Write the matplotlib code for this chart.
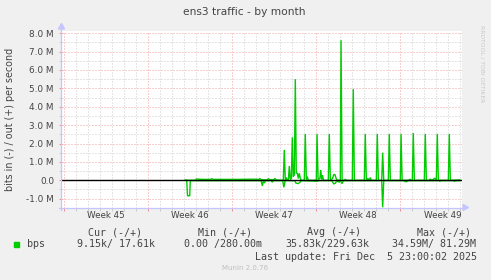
import matplotlib
matplotlib.use("Agg")
import matplotlib.pyplot as plt
import matplotlib.transforms as mtrans
from matplotlib.patches import Polygon, Rectangle
from matplotlib.lines import Line2D

# ---------------- data (days since Mon 3 Nov 2025 00:00, values in Mbit/s) ----------------
out_days = [10.06, 10.5, 10.95, 11.0, 11.2, 11.5, 12.2, 12.3, 12.4, 13.5, 14.6, 15.7, 16.2, 16.3, 16.4,
            16.9, 17.0, 17.1, 17.45, 17.55, 17.65, 18.25, 18.33, 18.42, 18.5, 18.58, 18.67, 18.75, 18.83,
            18.92, 19.0, 19.08, 19.17, 19.25, 19.33, 19.42, 19.5, 19.58, 19.67, 19.75, 20.0, 20.08, 20.17,
            20.25, 20.33, 21.0, 21.06, 21.15, 21.3, 21.37, 21.45, 21.52, 21.6, 22.0, 22.08, 22.17, 22.35,
            22.45, 22.55, 22.65, 22.75, 23.0, 23.06, 23.15, 23.35, 23.42, 23.5, 24.0, 24.08, 24.17, 25.0,
            25.08, 25.17, 25.3, 25.42, 25.5, 25.58, 26.0, 26.08, 26.17, 26.45, 26.53, 26.62, 27.0, 27.08,
            27.17, 28.0, 28.06, 28.15, 28.7, 28.8, 28.9, 29.0, 29.08, 29.17, 30.0, 30.08, 30.17, 30.4,
            30.5, 30.6, 30.75, 30.85, 30.95, 31.0, 31.08, 31.17, 32.0, 32.08, 32.17, 32.96]
out_mbps = [0.0, 0.0, 0.01, 0.07, 0.06, 0.05, 0.05, 0.09, 0.05, 0.05, 0.05, 0.06, 0.05, 0.09, 0.03,
            0.02, 0.09, 0.03, 0.03, 0.10, 0.02, 0.0, 1.65, 0.0, 0.15, 0.0, 0.0, 0.78, 0.05,
            0.10, 2.34, 0.20, 0.30, 5.50, 0.40, 0.38, 0.10, 0.38, 0.10, 0.0, 0.0, 2.52, 0.05,
            0.20, 0.0, 0.0, 2.52, 0.05, 0.10, 0.56, 0.05, 0.28, 0.0, 0.0, 2.52, 0.0, 0.10,
            0.30, 0.32, 0.10, 0.0, 0.0, 7.62, 0.0, 0.0, 0.06, 0.0, 0.0, 4.96, 0.0, 0.0,
            2.52, 0.0, 0.10, 0.0, 0.15, 0.0, 0.0, 2.52, 0.0, 0.0, 1.50, 0.0, 0.0, 2.52,
            0.0, 0.0, 2.52, 0.0, 0.0, 0.05, 0.0, 0.0, 2.57, 0.0, 0.0, 2.52, 0.0, 0.0,
            0.07, 0.0, 0.05, 0.12, 0.03, 0.0, 2.52, 0.0, 0.0, 2.52, 0.0, 0.02]

in_days = [10.06, 10.2, 10.27, 10.45, 10.5, 11.5, 13.0, 14.5, 16.4, 16.5, 16.58, 16.68, 16.75, 16.85,
           17.25, 17.33, 17.42, 18.2, 18.3, 18.4, 19.2, 19.3, 19.5, 19.65, 19.75, 21.1, 21.2, 22.3,
           22.45, 22.6, 22.7, 22.9, 23.0, 23.15, 23.25, 26.45, 26.53, 26.62, 28.3, 28.4, 28.55, 28.65,
           31.2, 31.3, 31.4, 32.4, 32.5, 32.6, 32.96]
in_mbps = [0.0, 0.0, -0.84, -0.84, -0.02, -0.02, -0.02, -0.02, -0.02, -0.30, -0.05, -0.15, -0.03, -0.02,
           -0.02, -0.10, -0.02, -0.02, -0.38, -0.02, -0.02, -0.15, -0.18, -0.10, -0.02, -0.05, -0.02, -0.02,
           -0.20, -0.15, -0.02, -0.10, -0.02, -0.18, -0.02, -0.02, -1.47, -0.02, -0.02, -0.07, -0.07, -0.02,
           -0.02, -0.05, -0.02, -0.02, -0.05, -0.02, -0.02]

week_labels = ["Week 45", "Week 46", "Week 47", "Week 48", "Week 49"]
week_starts = [0, 7, 14, 21, 28]
ytick_vals = [-1, 0, 1, 2, 3, 4, 5, 6, 7, 8]
ytick_labels = ["-1.0 M", "0.0", "1.0 M", "2.0 M", "3.0 M", "4.0 M", "5.0 M", "6.0 M", "7.0 M", "8.0 M"]

legend_headers = ["Cur (-/+)", "Min (-/+)", "Avg (-/+)", "Max (-/+)"]
legend_values = ["9.15k/ 17.61k", "0.00 /280.00m", "35.83k/229.63k", "34.59M/ 81.29M"]
series_name = "bps"
last_update = "Last update: Fri Dec  5 23:00:02 2025"

# ---------------- figure ----------------
W, H = 491, 280
BG = "#F0F0F0"
GREEN = "#00CC00"
TXT = "#444444"
AXC = "#C4C4FF"

fig = plt.figure(figsize=(W / 100, H / 100), dpi=100, facecolor=BG)

def fx(px):
    return px / W

def fy(py):
    return 1 - py / H

left_px, right_px, top_px, bot_px = 62, 462, 31, 207.5
ax = fig.add_axes([fx(left_px), fy(bot_px), fx(right_px - left_px), (bot_px - top_px) / H])
ax.set_facecolor("white")

xmin, xmax = -0.19, 33.14
ymin, ymax = -1.48, 8.12
ax.set_xlim(xmin, xmax)
ax.set_ylim(ymin, ymax)

for s in ax.spines.values():
    s.set_visible(False)

# grid
ax.set_xticks(week_starts)
ax.set_xticks([d for d in range(0, 34)], minor=True)
ax.set_yticks(ytick_vals)
ax.set_yticks([v / 2 for v in range(-2, 17)], minor=True)
ax.set_xticklabels([])
ax.set_yticklabels(ytick_labels, fontsize=6.4, color=TXT, family="DejaVu Sans")
ax.grid(which="major", color="#F2A0A0", linestyle=(0, (1, 2)), linewidth=0.72, zorder=0)
ax.grid(which="minor", color="#CCCCCC", linestyle=(0, (1, 2)), linewidth=0.72, zorder=0)
ax.set_axisbelow(True)
ax.tick_params(which="major", axis="both", direction="out", length=2, width=0.72, color="#F09090", pad=3.8)
ax.tick_params(which="minor", axis="both", direction="out", length=2, width=0.72, color="#CCCCCC")

# series
ax.plot(in_days, in_mbps, color=GREEN, linewidth=1.0, zorder=2, solid_joinstyle="miter")
ax.plot(out_days, out_mbps, color=GREEN, linewidth=1.0, zorder=2, solid_joinstyle="miter")
ax.axhline(0, color="black", linewidth=1.0, zorder=3)

# week labels
btr = mtrans.blended_transform_factory(ax.transData, fig.transFigure)
for d, lab in zip(week_starts, week_labels):
    ax.text(d + 3.5, fy(215.3), lab, transform=btr, ha="center", va="center",
            fontsize=6.3, color=TXT, family="DejaVu Sans", clip_on=False)

# axes lines with arrows (pixel coordinates)
fig.add_artist(Line2D([fx(59), fx(464)], [fy(207.5), fy(207.5)], color=AXC, lw=0.9))
fig.add_artist(Line2D([fx(61.5), fx(61.5)], [fy(210), fy(28)], color=AXC, lw=0.9))
fig.add_artist(Polygon([[fx(463), fy(204.5)], [fx(468.5), fy(207.5)], [fx(463), fy(210.5)]],
                       closed=True, color=AXC, transform=fig.transFigure))
fig.add_artist(Polygon([[fx(58.5), fy(29)], [fx(61.5), fy(23.5)], [fx(64.5), fy(29)]],
                       closed=True, color=AXC, transform=fig.transFigure))

# title and labels
fig.text(fx(244.5), fy(11.7), "ens3 traffic - by month", ha="center", va="center",
         fontsize=7.7, color=TXT, family="DejaVu Sans")
fig.text(fx(10), fy(119), "bits in (-) / out (+) per second", rotation=90, ha="center", va="center",
         fontsize=6.9, color=TXT, family="DejaVu Sans")
fig.text(fx(482), fy(25), "RRDTOOL / TOBI OETIKER", rotation=270, ha="center", va="top",
         fontsize=4.3, color="#C8C8C8", family="DejaVu Sans")

# legend
mono = dict(family="DejaVu Sans Mono", fontsize=7.2, color=TXT, va="center")
fig.add_artist(Rectangle((fx(14), fy(247)), fx(5), 5 / H, color=GREEN, transform=fig.transFigure))
fig.text(fx(26.7), fy(244.3), series_name, ha="left", **mono)
for hx, h in zip([87.7, 197.7, 306.7, 416.7], legend_headers):
    fig.text(fx(hx), fy(232.3), h, ha="left", **mono)
for vx, v in zip([77.3, 184.3, 285.0, 391.7], legend_values):
    fig.text(fx(vx), fy(244.3), v, ha="left", **mono)
fig.text(fx(476.7), fy(256.7), last_update, ha="right", **mono)
fig.text(fx(244.8), fy(268.3), "Munin 2.0.76", ha="center", va="center",
         fontsize=5.0, color="#C0C0C0", family="DejaVu Sans")

fig.savefig("out.png", dpi=100, facecolor=BG)
